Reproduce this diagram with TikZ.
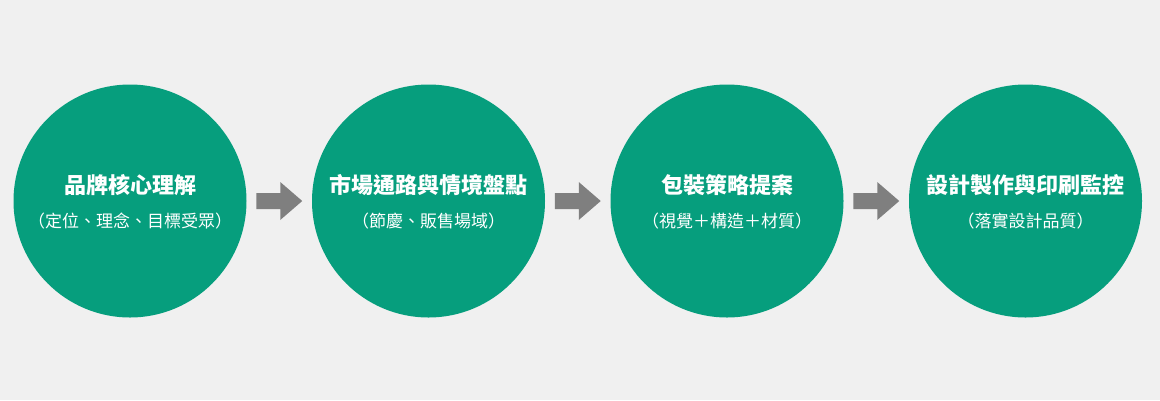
\documentclass[tikz,border=0pt]{standalone}
\usepackage{fontspec}
\newfontfamily\cjk{Noto Sans CJK TC}
\usetikzlibrary{calc}
\definecolor{bggray}{HTML}{F0F0F0}
\definecolor{stepgreen}{HTML}{069E7D}
\definecolor{arrowgray}{HTML}{7F7F7F}
\tikzset{
  stepcircle/.style={circle, fill=stepgreen, draw=none, minimum size=233pt, inner sep=0pt},
  steptitle/.style={text=white, font=\cjk\bfseries\fontsize{22}{26}\selectfont, inner sep=0pt},
  stepsub/.style={text=white, font=\cjk\fontsize{17}{20}\selectfont, inner sep=0pt},
  blockarrow/.style={fill=arrowgray, draw=none}
}
\begin{document}
\begin{tikzpicture}[x=1pt, y=-1pt]
  \fill[bggray] (0,0) rectangle (1160,400);
  \useasboundingbox (0,0) rectangle (1160,400);

  \node[stepcircle] (c1) at (130,201) {};
  \node[stepcircle] (c2) at (428.5,201) {};
  \node[stepcircle] (c3) at (727,201) {};
  \node[stepcircle] (c4) at (1025.5,201) {};

  \node[steptitle] (t1) at ([yshift=16pt]c1.center) {品牌核心理解};
  \node[stepsub]   (s1) at ([yshift=-20pt]c1.center) {（定位、理念、目標受眾）};
  \node[steptitle] (t2) at ([yshift=16pt]c2.center) {市場通路與情境盤點};
  \node[stepsub]   (s2) at ([yshift=-20pt]c2.center) {（節慶、販售場域）};
  \node[steptitle] (t3) at ([yshift=16pt]c3.center) {包裝策略提案};
  \node[stepsub]   (s3) at ([yshift=-20pt]c3.center) {（視覺＋構造＋材質）};
  \node[steptitle] (t4) at ([yshift=16pt]c4.center) {設計製作與印刷監控};
  \node[stepsub]   (s4) at ([yshift=-20pt]c4.center) {（落實設計品質）};

  \foreach \a/\b in {c1/c2, c2/c3, c3/c4}{
    \fill[blockarrow] ($(\a)!0.5!(\b)$) ++(-23,-8) -- ++(24,0) -- ++(0,-11)
      -- ++(22,19) -- ++(-22,19) -- ++(0,-11) -- ++(-24,0) -- cycle;
  }
\end{tikzpicture}
\end{document}
